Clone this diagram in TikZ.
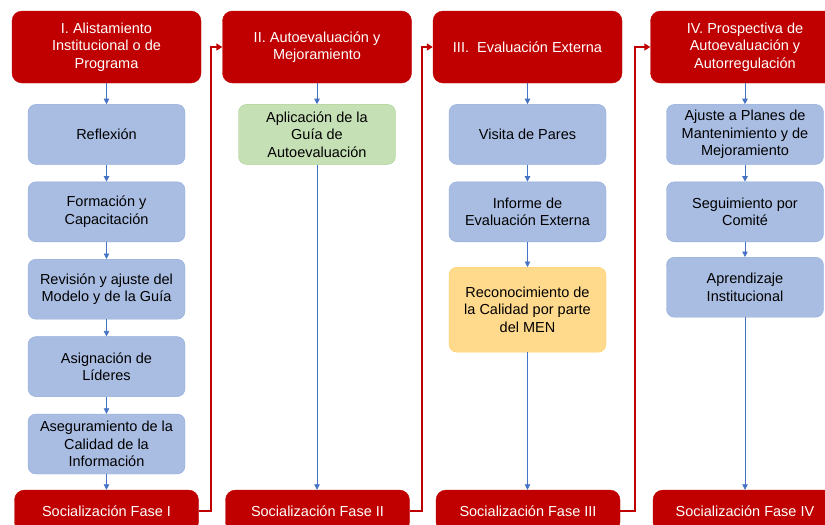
\documentclass[tikz,border=0pt]{standalone}
\usepackage{fontspec}
\setmainfont{Liberation Sans}
\usetikzlibrary{positioning, arrows.meta}
\definecolor{fasered}{HTML}{C00000}
\definecolor{stepblue}{HTML}{A9BDE2}
\definecolor{stepline}{HTML}{8FAADC}
\definecolor{arrowblue}{HTML}{4472C4}
\definecolor{stepgreen}{HTML}{C5E0B4}
\definecolor{greenline}{HTML}{A9D18E}
\definecolor{stepyellow}{HTML}{FFD98C}
\definecolor{yellowline}{HTML}{FFD166}

\begin{document}
\begin{tikzpicture}[
		x=1pt, y=-1pt,
		node distance=17pt,
		fasebox/.style={
			rectangle,
			draw=fasered,
			fill=fasered,
			text=white,
			rounded corners=10pt,
			align=center,
			minimum width=189pt,
			minimum height=72pt,
			font=\fontsize{14.5}{17.5}\selectfont
		},
		sociabox/.style={
			fasebox,
			minimum width=184pt,
			minimum height=42pt
		},
		stepbox/.style={
			rectangle,
			draw=stepline,
			fill=stepblue,
			rounded corners=8pt,
			align=center,
			minimum width=157pt,
			minimum height=60pt,
			inner sep=2pt,
			font=\fontsize{14.5}{17.5}\selectfont
		},
		greenbox/.style={stepbox, draw=greenline, fill=stepgreen},
		yellowbox/.style={stepbox, draw=yellowline, fill=stepyellow, minimum height=85pt},
		arrow/.style={-{Triangle[length=5.5pt, width=5.5pt]}, arrowblue, line width=0.8pt},
		redarrow/.style={-{Triangle[length=6pt, width=7pt]}, fasered, line width=2pt}
		]
		
		\useasboundingbox (0,0) rectangle (825,525);
		
		% phase headers
		\node[fasebox] (h1) at (106.5,47) {I. Alistamiento\\Institucional o de\\Programa};
		\node[fasebox] (h2) at (317,47) {II. Autoevaluación y\\Mejoramiento};
		\node[fasebox] (h3) at (527.5,47) {III.\ \ Evaluación Externa};
		\node[fasebox] (h4) at (745,47) {IV. Prospectiva de\\Autoevaluación y\\Autorregulación};
		
		% socialization boxes
		\node[sociabox] (s1) at (106.5,511) {Socialización Fase I};
		\node[sociabox] (s2) at (317.5,511) {Socialización Fase II};
		\node[sociabox] (s3) at (528,511) {Socialización Fase III};
		\node[sociabox] (s4) at (745,511) {Socialización Fase IV};
		
		% phase I
		\node[stepbox, below=21pt of h1] (a1) {Reflexión};
		\node[stepbox, below=of a1] (a2) {Formación y\\Capacitación};
		\node[stepbox, below=of a2] (a3) {Revisión y ajuste del\\Modelo y de la Guía};
		\node[stepbox, below=of a3] (a4) {Asignación de\\Líderes};
		\node[stepbox, below=of a4] (a5) {Aseguramiento de la\\Calidad de la\\Información};
		
		% phase II
		\node[greenbox, below=21pt of h2] (b1) {Aplicación de la\\Guía de\\Autoevaluación};
		
		% phase III
		\node[stepbox, below=21pt of h3] (c1) {Visita de Pares};
		\node[stepbox, below=of c1] (c2) {Informe de\\Evaluación Externa};
		\node[yellowbox, below=25pt of c2] (c3) {Reconocimiento de\\la Calidad por parte\\del MEN};
		
		% phase IV
		\node[stepbox, below=21pt of h4] (d1) {Ajuste a Planes de\\Mantenimiento y de\\Mejoramiento};
		\node[stepbox, below=of d1] (d2) {Seguimiento por\\Comité};
		\node[stepbox, below=15pt of d2] (d3) {Aprendizaje\\Institucional};
		
		\draw[arrow] (h1) -- (a1);
		\draw[arrow] (a1) -- (a2);
		\draw[arrow] (a2) -- (a3);
		\draw[arrow] (a3) -- (a4);
		\draw[arrow] (a4) -- (a5);
		\draw[arrow] (a5) -- (s1);
		
		\draw[arrow] (h2) -- (b1);
		\draw[arrow] (b1) -- (b1 |- s2.north);
		
		\draw[arrow] (h3) -- (c1);
		\draw[arrow] (c1) -- (c2);
		\draw[arrow] (c2) -- (c3);
		\draw[arrow] (c3) -- (c3 |- s3.north);
		
		\draw[arrow] (h4) -- (d1);
		\draw[arrow] (d1) -- (d2);
		\draw[arrow] (d2) -- (d3);
		\draw[arrow] (d3) -- (d3 |- s4.north);
		
		% links between phases
		\draw[redarrow] (s1.east) -- ++(12,0) |- (h2.west);
		\draw[redarrow] (s2.east) -- ++(12,0) |- (h3.west);
		\draw[redarrow] (s3.east) -- ++(15,0) |- (h4.west);
		
	\end{tikzpicture}
\end{document}
